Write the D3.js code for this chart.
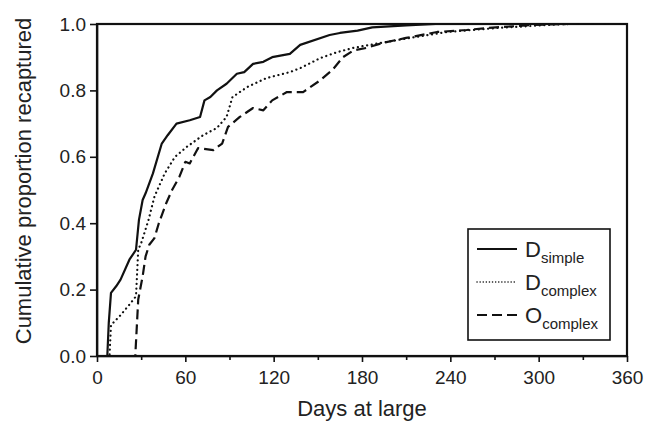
<!DOCTYPE html>
<meta charset="utf-8">
<style type="text/css">

body { margin: 0; background: #fff; }
text { font-family: "Liberation Sans", Arial, sans-serif; fill: #222; }
.curve { fill: none; stroke: #111; stroke-width: 2.2; stroke-linejoin: round; }
.axis path, .axis line { stroke: #111; stroke-width: 1.6; }
.axis text { font-size: 19px; fill: #222; }

</style>
<body>
</body>

<script src="https://d3js.org/d3.v7.min.js"></script>
<script>

var width = 656
  , height = 424;

// days at large, cumulative proportion recaptured
var simpleDays = [0, 7, 8, 9.5, 13, 16, 22, 26.5, 28.5, 31, 33, 38, 44, 48, 54, 63, 70, 73, 77, 81.5, 88, 95, 100, 106, 113, 119, 131, 138, 158, 165, 177, 187, 210, 230, 360];
var simpleProp = [0, 0, 0.10, 0.19, 0.21, 0.23, 0.29, 0.32, 0.41, 0.47, 0.49, 0.55, 0.64, 0.665, 0.70, 0.71, 0.72, 0.77, 0.78, 0.80, 0.82, 0.85, 0.855, 0.88, 0.886, 0.90, 0.91, 0.937, 0.967, 0.973, 0.98, 0.99, 0.996, 1.0, 1.0];

var dComplexDays = [0, 8.5, 9.5, 16, 23, 26.5, 28, 30, 35, 39, 46, 53, 61, 72, 81.5, 88, 92, 102, 115, 131, 138, 151.5, 163, 174, 185, 215, 238, 272, 306, 321, 360];
var dComplexProp = [0, 0, 0.093, 0.123, 0.16, 0.18, 0.32, 0.34, 0.41, 0.48, 0.55, 0.60, 0.63, 0.665, 0.687, 0.72, 0.78, 0.81, 0.837, 0.855, 0.867, 0.897, 0.915, 0.928, 0.937, 0.96, 0.976, 0.988, 0.997, 1.0, 1.0];

var oComplexDays = [0, 26, 28, 31, 33, 35.5, 39, 42, 47, 51, 56, 60, 63, 68.6, 79, 85, 89, 97, 106, 113, 119, 129, 140, 151.5, 160, 167, 174, 183, 194, 210, 231, 251, 265, 296, 319, 360];
var oComplexProp = [0, 0, 0.17, 0.24, 0.30, 0.335, 0.355, 0.40, 0.46, 0.50, 0.54, 0.585, 0.58, 0.626, 0.62, 0.64, 0.69, 0.72, 0.747, 0.74, 0.77, 0.795, 0.795, 0.83, 0.862, 0.90, 0.92, 0.928, 0.943, 0.958, 0.976, 0.982, 0.988, 0.997, 1.0, 1.0];

var xTicks = [0, 60, 120, 180, 240, 300, 360];
var xMinorTicks = [30, 90, 150, 210, 270, 330];
var yTicks = [0, 0.2, 0.4, 0.6, 0.8, 1.0];

var series = [
  { name: "D", sub: "simple", days: simpleDays, prop: simpleProp, dash: null, cap: "butt" },
  { name: "D", sub: "complex", days: dComplexDays, prop: dComplexProp, dash: "0.1,4.6", cap: "round" },
  { name: "O", sub: "complex", days: oComplexDays, prop: oComplexProp, dash: "10,5", cap: "butt" }
];

var margin = { left: 97, right: 29, top: 24, bottom: 68 };

var xScale = d3.scaleLinear()
    .domain([0, 360])
    .range([margin.left, width - margin.right]);

var yScale = d3.scaleLinear()
    .domain([0, 1])
    .range([height - margin.bottom, margin.top]);

var svg = d3.select("body").append("svg")
    .attr("width", width)
    .attr("height", height);

var line = d3.line()
    .x(function(d) { return xScale(d[0]); })
    .y(function(d) { return yScale(d[1]); });

// frame
svg.append("rect")
    .attr("x", xScale(0))
    .attr("y", yScale(1))
    .attr("width", xScale(360) - xScale(0))
    .attr("height", yScale(0) - yScale(1))
    .attr("fill", "none")
    .attr("stroke", "#111")
    .attr("stroke-width", 2.2);

svg.append("g")
    .attr("class", "axis")
    .attr("transform", "translate(0," + yScale(0) + ")")
    .call(d3.axisBottom(xScale).tickValues(xMinorTicks).tickSize(4).tickFormat(""))
    .call(function(g) { g.select(".domain").remove(); });

svg.append("g")
    .attr("class", "axis")
    .attr("transform", "translate(0," + yScale(0) + ")")
    .call(d3.axisBottom(xScale).tickValues(xTicks).tickSize(6).tickPadding(9).tickSizeOuter(0));

svg.append("g")
    .attr("class", "axis")
    .attr("transform", "translate(" + xScale(0) + ",0)")
    .call(d3.axisLeft(yScale).tickValues(yTicks).tickSize(7).tickPadding(4).tickSizeOuter(0)
      .tickFormat(d3.format(".1f")));

series.forEach(function(s) {
  var pts = s.days.map(function(d, i) { return [d, s.prop[i]]; });
  svg.append("path")
      .datum(pts)
      .attr("class", "curve")
      .attr("stroke-dasharray", s.dash)
      .attr("stroke-linecap", s.cap)
      .attr("d", line);
});

// axis titles
svg.append("text")
    .attr("x", (xScale(0) + xScale(360)) / 2)
    .attr("y", 416)
    .attr("text-anchor", "middle")
    .style("font-size", "22px")
    .text("Days at large");

svg.append("text")
    .attr("transform", "translate(31,181) rotate(-90)")
    .attr("text-anchor", "middle")
    .style("font-size", "22px")
    .text("Cumulative proportion recaptured");

// legend
var legend = svg.append("g");

legend.append("rect")
    .attr("x", 468)
    .attr("y", 229)
    .attr("width", 142)
    .attr("height", 111)
    .attr("fill", "#fff")
    .attr("stroke", "#111")
    .attr("stroke-width", 1.6);

var item = legend.selectAll(".item")
    .data(series)
  .enter().append("g")
    .attr("class", "item")
    .attr("transform", function(d, i) { return "translate(0," + (249 + i * 33) + ")"; });

item.append("line")
    .attr("x1", 477)
    .attr("x2", 517)
    .attr("stroke", "#111")
    .attr("stroke-width", function(d) { return d.cap === "round" ? 1.5 : 2.2; })
    .attr("stroke-linecap", function(d) { return d.cap; })
    .attr("stroke-dasharray", function(d) { return d.cap === "round" ? "0.1,3" : d.dash; });

var label = item.append("text")
    .attr("x", 525)
    .attr("y", 8)
    .style("font-size", "22px");

label.append("tspan")
    .text(function(d) { return d.name; });

label.append("tspan")
    .attr("dy", 6)
    .style("font-size", "15px")
    .text(function(d) { return d.sub; });

</script>
